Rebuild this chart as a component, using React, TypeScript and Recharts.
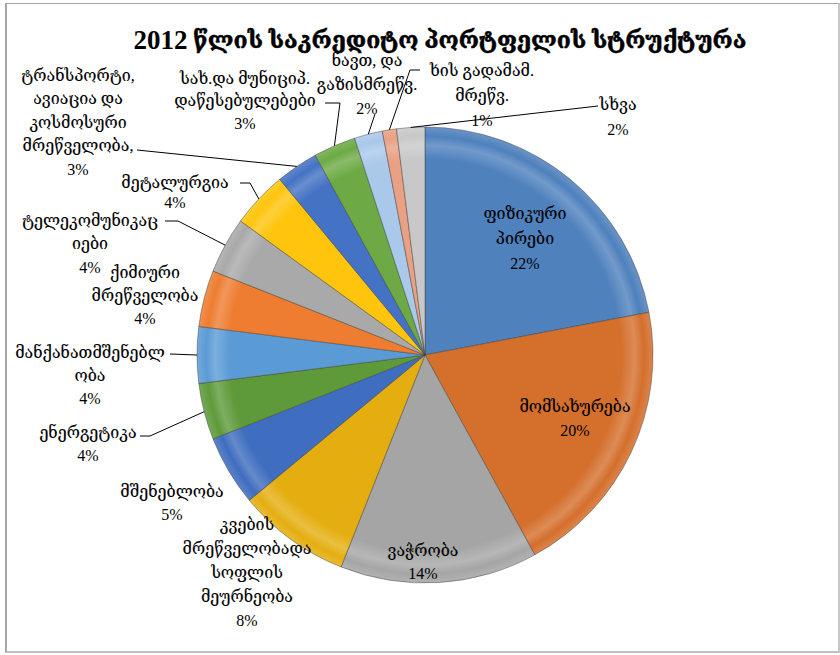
import React from 'react';
import { PieChart, Pie, Cell } from 'recharts';

const titleYear = '2012';
const titleText = ' წლის საკრედიტო პორტფელის სტრუქტურა';

const categories = [
  'ფიზიკური\nპირები',
  'მომსახურება',
  'ვაჭრობა',
  'კვების\nმრეწველობადა\nსოფლის\nმეურნეობა',
  'მშენებლობა',
  'ენერგეტიკა',
  'მანქანათმშენებლ\nობა',
  'ქიმიური\nმრეწველობა',
  'ტელეკომუნიკაც\nიები',
  'მეტალურგია',
  'ტრანსპორტი,\nავიაცია და\nკოსმოსური\nმრეწველობა,',
  'სახ.და მუნიციპ.\nდაწესებულებები',
  'ნავთ, და\nგაზისმრეწვ.',
  'ხის გადამამ.\nმრეწვ.',
  'სხვა',
];

const shares = [22, 20, 14, 8, 5, 4, 4, 4, 4, 4, 3, 3, 2, 1, 2];

const colors = [
  '#4F81BD', '#D46F2C', '#A5A5A5', '#E5AE10', '#3F6DBF', '#5E9A3A', '#5B9BD5',
  '#EE7D31', '#A9A9A9', '#FFC40C', '#4472C4', '#6DAA45', '#A9C8EA', '#E9A083', '#C8C8C8',
];

// label placement (text layout only)
const labelLayout = [
  { x: 525, y: 213, gap: 25, leader: null },
  { x: 575, y: 406, gap: 24, leader: null },
  { x: 423, y: 550, gap: 23, leader: null },
  { x: 247, y: 524, gap: 24, leader: null },
  { x: 172, y: 491, gap: 23, leader: null },
  { x: 88, y: 432, gap: 23, leader: [[140, 436], [150, 436]] },
  { x: 90, y: 352, gap: 23, leader: [[170, 354]] },
  { x: 145, y: 272, gap: 23, leader: null },
  { x: 90, y: 220, gap: 23.5, leader: [[165, 221], [178, 221]] },
  { x: 175, y: 182, gap: 20, leader: [[240, 183], [250, 183]] },
  { x: 78, y: 75, gap: 23.5, leader: [[137, 150]] },
  { x: 245, y: 78, gap: 22.5, leader: [[325, 103], [340, 103]] },
  { x: 367, y: 60, gap: 24, leader: [[375, 114]] },
  { x: 482, y: 70, gap: 25, leader: [[420, 70], [410, 70]] },
  { x: 618, y: 104, gap: 25, leader: [[598, 106]] },
];

const data = categories.map((name, i) => ({ name, value: shares[i] }));

const FONT = "'Liberation Serif', 'DejaVu Serif', serif";
const RAD = Math.PI / 180;

const renderLabel = (props: any) => {
  const { cx, cy, midAngle, outerRadius, index, percent, name } = props;
  const lay = labelLayout[index];
  const textLines = String(name).split('\n');
  const pct = `${Math.round(percent * 100)}%`;
  const px = cx + outerRadius * Math.cos(-midAngle * RAD);
  const py = cy + outerRadius * Math.sin(-midAngle * RAD);
  let leader = null;
  if (lay.leader) {
    const pts = [...lay.leader.map((p: number[]) => p.join(',')), `${px},${py}`].join(' ');
    leader = <polyline points={pts} fill="none" stroke="#000" strokeWidth={1} />;
  }
  return (
    <g key={`lbl-${index}`}>
      {leader}
      {textLines.map((t, k) => (
        <text
          key={k}
          x={lay.x}
          y={lay.y + k * lay.gap}
          textAnchor="middle"
          dominantBaseline="central"
          fontFamily={FONT}
          fontSize={16}
          fill="#000"
          stroke="#000"
          strokeWidth={0.1}
        >
          {t}
        </text>
      ))}
      <text
        x={lay.x}
        y={lay.y + textLines.length * lay.gap}
        textAnchor="middle"
        dominantBaseline="central"
        fontFamily={FONT}
        fontSize={16}
        fill="#000"
      >
        {pct}
      </text>
    </g>
  );
};

export default function App() {
  return (
    <div style={{ position: 'absolute', left: 0, top: 0, width: 840, height: 655, background: '#fff' }}>
      <div
        style={{
          position: 'absolute',
          left: 5,
          top: 3,
          width: 831,
          height: 647,
          borderTop: '1px solid #A6A6A6',
          borderLeft: '2px solid #A6A6A6',
          borderRight: '2px solid #C8C8C8',
          borderBottom: '2px solid #C0C0C0',
        }}
      />
      <div style={{ position: 'absolute', left: 0, top: 0 }}>
        <PieChart width={840} height={655} margin={{ top: 0, right: 0, bottom: 0, left: 0 }}>
          <defs>
            {colors.map((c, i) => (
              <radialGradient key={i} id={`g${i}`} gradientUnits="userSpaceOnUse" cx={425} cy={355} r={228}>
                <stop offset="0%" stopColor={c} />
                <stop offset="86%" stopColor={c} />
                <stop offset="92%" stopColor={c} stopOpacity={0.8} />
                <stop offset="96%" stopColor={c} />
                <stop offset="100%" stopColor={c} stopOpacity={0.85} />
              </radialGradient>
            ))}
          </defs>
          <text x={440} y={40} textAnchor="middle" dominantBaseline="central" fontFamily={FONT} fontWeight="bold" fill="#000">
            <tspan fontSize={27}>{titleYear}</tspan>
            <tspan fontSize={23} stroke="#000" strokeWidth={0.5}>{titleText}</tspan>
          </text>
          <Pie
            data={data}
            dataKey="value"
            nameKey="name"
            cx={425}
            cy={355}
            outerRadius={228}
            startAngle={90}
            endAngle={-270}
            isAnimationActive={false}
            label={renderLabel}
            labelLine={false}
            stroke="rgba(60,60,60,0.45)"
            strokeWidth={1}
          >
            {data.map((_, i) => (
              <Cell key={i} fill={`url(#g${i})`} />
            ))}
          </Pie>
        </PieChart>
      </div>
    </div>
  );
}
